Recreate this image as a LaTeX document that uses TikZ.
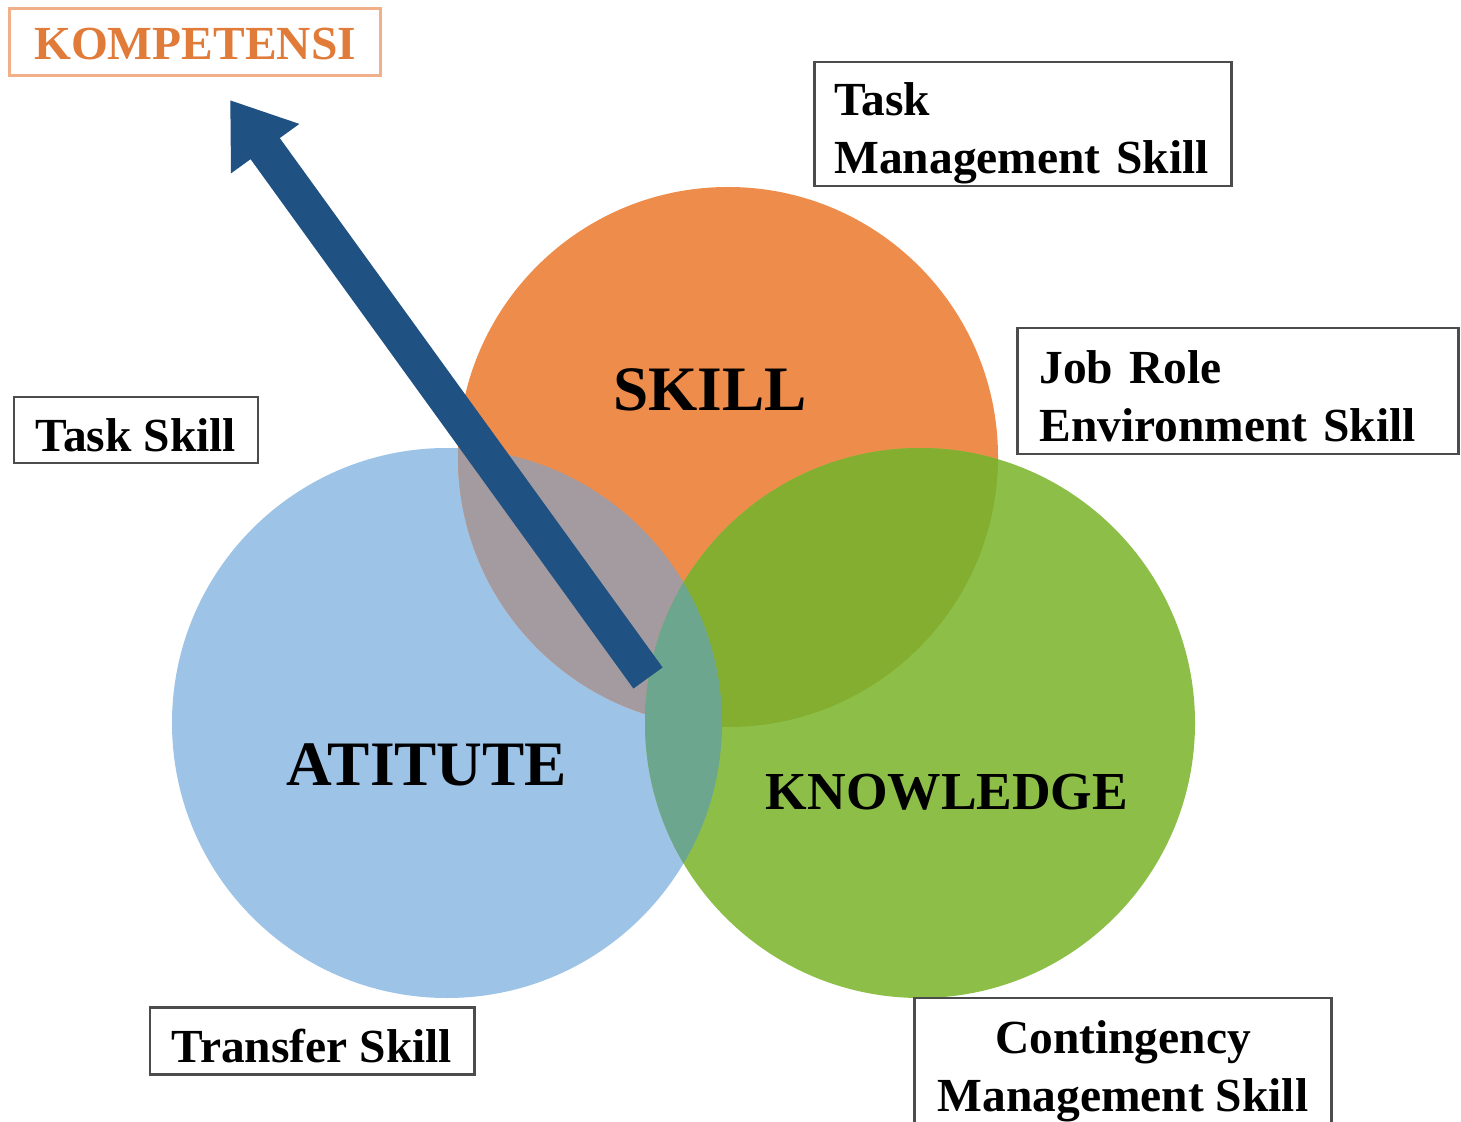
\documentclass[tikz,border=0pt]{standalone}
\usepackage{fontspec}
\setmainfont{Liberation Serif}
\usetikzlibrary{arrows.meta}
\definecolor{oranye}{HTML}{EE8D4B}
\definecolor{biru}{HTML}{9DC3E6}
\definecolor{hijau}{HTML}{8DBF48}
\definecolor{abu}{HTML}{A49BA0}
\definecolor{zaitun}{HTML}{84AE30}
\definecolor{toska}{HTML}{6DA68E}
\definecolor{panah}{HTML}{1F5283}
\definecolor{garisor}{HTML}{F2B08A}
\definecolor{teksor}{HTML}{E07B39}
\newcommand\turun[2]{\raisebox{-#1cm}[\height][\depth]{#2}}
\begin{document}
\begin{tikzpicture}[x=0.01cm,y=-0.01cm,
	kotak/.style={draw=black!70,line width=0.8pt,inner xsep=0pt,inner ysep=0pt,
		font=\bfseries\fontsize{13.5}{16.5}\selectfont},
	judul/.style={font=\bfseries\fontsize{#1}{#1}\selectfont}]
	\useasboundingbox (0,0) rectangle (1461,1122);
	\def\rS{270} % jari-jari skill
	\def\rL{275} % jari-jari atitute, knowledge
	% lingkaran
	\fill[biru] (447,723) circle (\rL);
	\fill[oranye] (728,457) circle (\rS);
	\fill[hijau] (920,723) circle (\rL);
	% irisan
	\begin{scope}
		\clip (728,457) circle (\rS);
		\fill[abu] (447,723) circle (\rL);
	\end{scope}
	\begin{scope}
		\clip (920,723) circle (\rL);
		\fill[zaitun] (728,457) circle (\rS);
		\fill[toska] (447,723) circle (\rL);
	\end{scope}
	\node[judul=18] (skill) at (710,390) {SKILL};
	\node[judul=18] (atitute) at (427,765) {ATITUTE};
	\node[judul=15.2] (know) at (947,792) {KNOWLEDGE};
	% panah kompetensi
	\coordinate (ekor) at (648,678);
	\coordinate (ujung) at (230,100);
	\draw[panah,line width=0.36cm,-{Triangle[length=0.6cm,width=0.8cm]}] (ekor) -- (ujung);
	% kotak keterangan
	\node[draw=garisor,line width=0.9pt,minimum width=3.7cm,minimum height=0.67cm,
		text=teksor,font=\bfseries\fontsize{13.5}{16}\selectfont] (komp) at (195,42) {\turun{0.02}{KOMPETENSI}};
	\node[kotak,text width=3.77cm,inner xsep=0.2cm,minimum height=1.24cm,align=left] (tms) at (1023,124)
		{\turun{0.09}{Task}\\\turun{0.09}{Management Skill}};
	\node[kotak,text width=3.97cm,inner xsep=0.22cm,minimum height=1.26cm,align=left] (jre) at (1238,391)
		{\turun{0.05}{Job Role}\\\turun{0.05}{Environment Skill}};
	\node[kotak,minimum width=2.44cm,minimum height=0.66cm] (ts) at (136,430) {\turun{0.05}{Task Skill}};
	\node[kotak,minimum width=3.24cm,minimum height=0.67cm] (trs) at (312,1041) {\turun{0.05}{Transfer Skill}};
	\node[kotak,minimum width=4.17cm,minimum height=1.3cm,align=center] (cms) at (1123,1063)
		{\turun{0.08}{Contingency}\\\turun{0.08}{Management Skill}};
\end{tikzpicture}
\end{document}
